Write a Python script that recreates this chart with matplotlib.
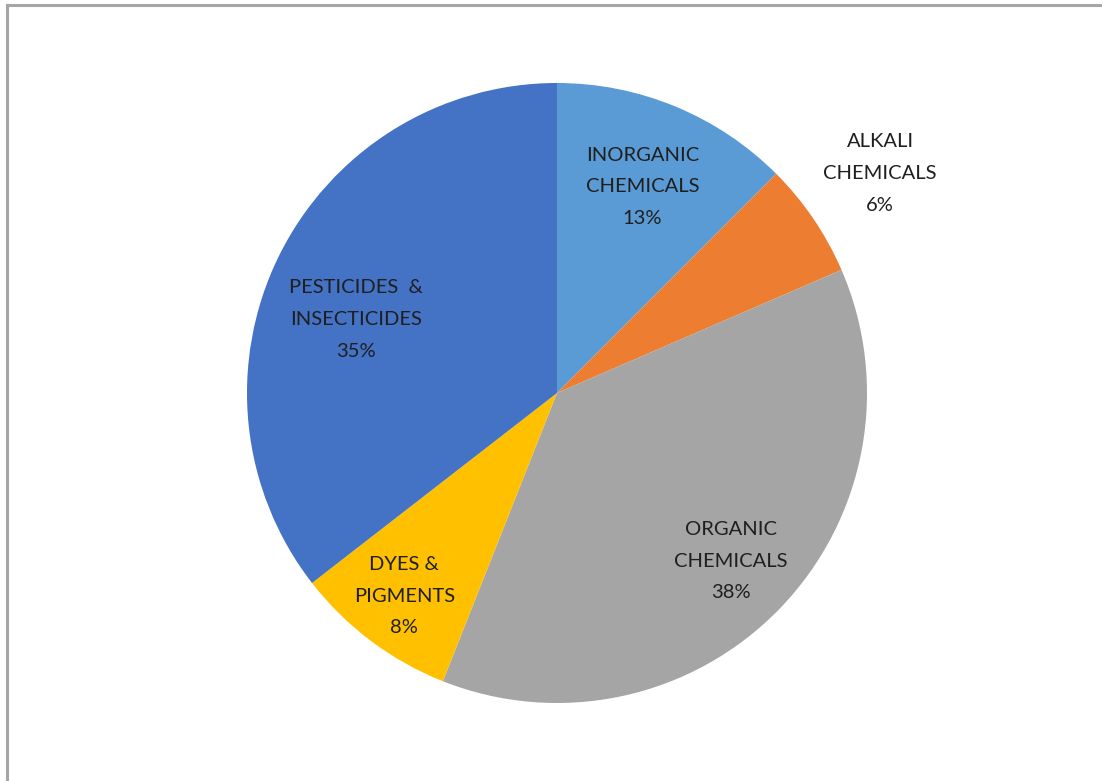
import numpy as np
import matplotlib
matplotlib.use("Agg")
import matplotlib.pyplot as plt
from matplotlib.lines import Line2D

# slice data (clockwise from 12 o'clock)
categories = ["INORGANIC\nCHEMICALS", "ALKALI\nCHEMICALS", "ORGANIC\nCHEMICALS",
              "DYES &\nPIGMENTS", "PESTICIDES  &\nINSECTICIDES"]
shares = [12.5, 6.0, 37.5, 8.5, 35.5]
pct_labels = ["13%", "6%", "38%", "8%", "35%"]

colors = ["#5B9BD5", "#ED7D31", "#A5A5A5", "#FFC000", "#4472C4"]
# label placement: radial distance and angle nudge (degrees)
label_dist = [0.72, 1.26, 0.78, 0.82, 0.69]
label_shift = [0, 0, 0, 0, 6]

plt.rcParams['font.family'] = ['Lato', 'DejaVu Sans']

W, H = 1102, 781
fig = plt.figure(figsize=(W / 100, H / 100), dpi=100)

# pie centre (557, 393) px, radius 310 px
cx, cy, r = 557, 393, 310
ax = fig.add_axes([(cx - r) / W, (H - cy - r) / H, 2 * r / W, 2 * r / H])
wedges, _ = ax.pie(shares, colors=colors, startangle=90, counterclock=False,
                   radius=1.0, wedgeprops=dict(linewidth=0))
ax.set_xlim(-1, 1)
ax.set_ylim(-1, 1)
ax.set_aspect("equal")
ax.axis("off")

for w, cat, pct, d, s in zip(wedges, categories, pct_labels, label_dist, label_shift):
    mid = np.deg2rad((w.theta1 + w.theta2) / 2 + s)
    ax.text(d * np.cos(mid), d * np.sin(mid), f"{cat}\n{pct}",
            ha="center", va="center", fontsize=14.5, color="#1f1f1f",
            linespacing=2.05, clip_on=False)

# chart frame (top and left edges visible)
fig.add_artist(Line2D([7 / W, 1], [1 - 5 / H, 1 - 5 / H], transform=fig.transFigure,
                      color="#a6a6a6", linewidth=2.2))
fig.add_artist(Line2D([7 / W, 7 / W], [0, 1 - 5 / H], transform=fig.transFigure,
                      color="#a6a6a6", linewidth=2.2))

fig.savefig("out.png", dpi=100, facecolor="white")
